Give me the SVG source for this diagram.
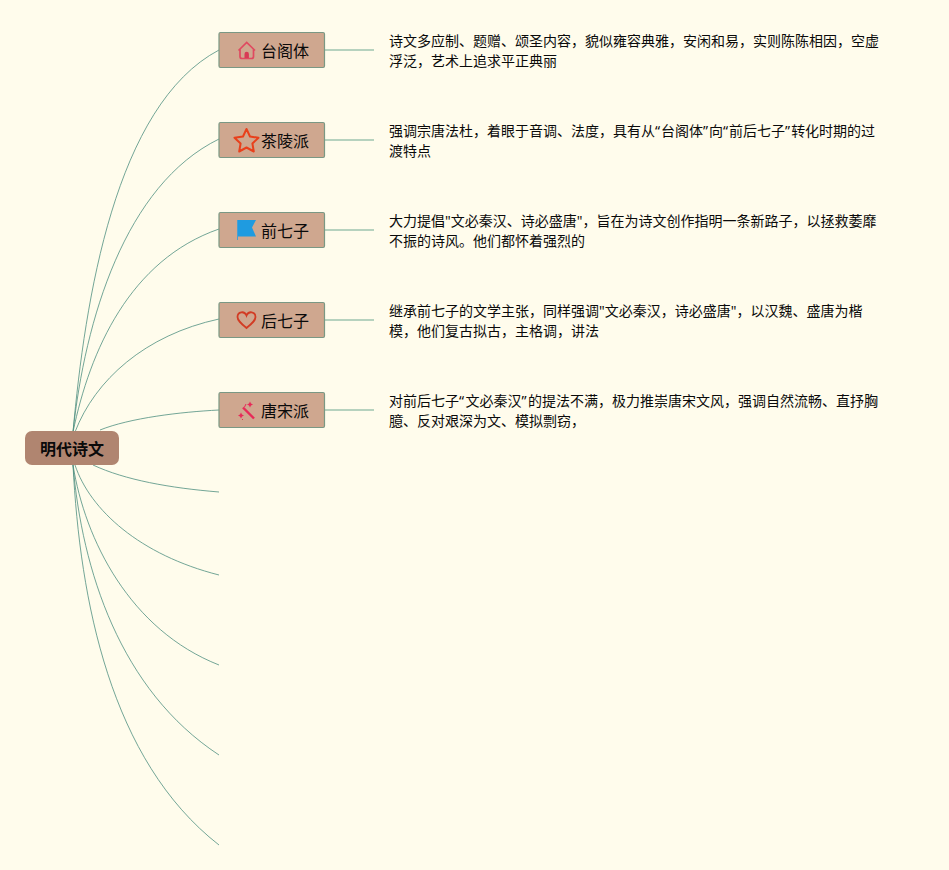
<svg xmlns="http://www.w3.org/2000/svg" width="949" height="870" viewBox="0 0 949 870">
<style>
.bg{fill:#fffcec}
.link{fill:none;stroke:#4f8f80;stroke-width:.8}
.stub{fill:none;stroke:#9fc4ae;stroke-width:1.500}
.box{fill:#cfa78f;stroke:#7a9884;stroke-width:1.200}
.t{font-family:"Noto Sans","Noto Sans CJK SC",sans-serif;fill:#0a0a0a}
.n{font-size:16px}
.d{font-size:14px}
</style>
<rect class="bg" width="949" height="870"/>
<g id="connectors">
<path class="link" d="M73 432C85 300 115 105 219 50"/>
<path class="link" d="M73 432C85 320 125 185 219 139"/>
<path class="link" d="M73 432C90 350 130 260 219 229"/>
<path class="link" d="M75 432C95 380 145 335 219 319"/>
<path class="link" d="M100 430C130 418 180 412 219 410"/>
<path class="link" d="M93 465C125 480 170 488 219 492"/>
<path class="link" d="M75 465C90 510 140 555 219 575"/>
<path class="link" d="M73 465C85 540 130 630 219 665"/>
<path class="link" d="M73 465C82 570 120 690 219 755"/>
<path class="link" d="M73 465C80 600 110 760 219 845"/>
<path class="stub" d="M325 50H374M325 140H374M325 230H374M325 320H374M325 410H374"/>
</g>
<g id="root">
<rect x="25" y="431" width="94" height="34" rx="7" fill="#b08570"/>
<text class="t" x="72" y="454.500" font-size="16" font-weight="700" text-anchor="middle">明代诗文</text>
</g>
<g id="node-1">
<rect class="box" x="219" y="32.500" width="105.500" height="35" rx="1.500"/>
<path d="M238.500 50.500L246.700 42.500L255 50.500M240 49V56.500a2 2 0 0 0 2 2H251.500a2 2 0 0 0 2-2V49" fill="none" stroke="#e04a60" stroke-width="1.700"/>
<path d="M244.500 58V54a2.200 2.200 0 0 1 4.400 0V58Z" fill="#d83a55"/>
<text class="t n" x="285" y="57" text-anchor="middle">台阁体</text>
<text class="t d" x="389" y="46">诗文多应制、题赠、颂圣内容，貌似雍容典雅，安闲和易，实则陈陈相因，空虚</text>
<text class="t d" x="389" y="66">浮泛，艺术上追求平正典丽</text>
</g>
<g id="node-2">
<rect class="box" x="219" y="122.500" width="105.500" height="35" rx="1.500"/>
<path d="M246.500 129L250 136.500L258.500 137.800L252.400 143.500L253.800 151.500L246.500 147.500L239.200 151.500L240.600 143.500L234.500 137.800L243 136.500Z" fill="none" stroke="#e8401c" stroke-width="2" stroke-linejoin="round"/>
<text class="t n" x="285" y="147" text-anchor="middle">茶陵派</text>
<text class="t d" x="389" y="136">强调宗唐法杜，着眼于音调、法度，具有从“<tspan dx="1">台阁体</tspan>”<tspan dx="1">向</tspan>“<tspan dx="1">前后七子</tspan>”<tspan dx="1">转化时期的过</tspan></text>
<text class="t d" x="389" y="156">渡特点</text>
</g>
<g id="node-3">
<rect class="box" x="219" y="212.500" width="105.500" height="35" rx="1.500"/>
<path d="M237.500 220H256L252 227.500L256 236.500H237.500Z" fill="#1f9be0"/>
<path d="M237.500 220V240" stroke="#4a9fd0" stroke-width="1"/>
<text class="t n" x="285" y="237" text-anchor="middle">前七子</text>
<text class="t d" x="389" y="226">大力提倡"文必秦汉、诗必盛唐"，旨在为诗文创作指明一条新路子，以拯救萎靡</text>
<text class="t d" x="389" y="246">不振的诗风。他们都怀着强烈的</text>
</g>
<g id="node-4">
<rect class="box" x="219" y="302.500" width="105.500" height="35" rx="1.500"/>
<path d="M246.500 328C241 323.500 237.500 320.500 237.500 317C237.500 311.500 244.500 310.500 246.500 315.500C248.500 310.500 255.500 311.500 255.500 317C255.500 320.500 252 323.500 246.500 328Z" fill="none" stroke="#d23c24" stroke-width="1.800"/>
<text class="t n" x="285" y="327" text-anchor="middle">后七子</text>
<text class="t d" x="389" y="316">继承前七子的文学主张，同样强调"文必秦汉，诗必盛唐"，以汉魏、盛唐为楷</text>
<text class="t d" x="389" y="336">模，他们复古拟古，主格调，讲法</text>
</g>
<g id="node-5">
<rect class="box" x="219" y="392.500" width="105.500" height="35" rx="1.500"/>
<path d="M243 407.500L254 418.500" stroke="#e82a58" stroke-width="2.400"/>
<path d="M250 401.500l1 2 2 1-2 1-1 2-1-2-2-1 2-1ZM241 412.500l1 2 2 1-2 1-1 2-1-2-2-1 2-1Z" fill="#e82a58"/>
<path d="M246 404l-1.500 3M243 419l-1 1" stroke="#e82a58" stroke-width="1"/>
<text class="t n" x="285" y="417" text-anchor="middle">唐宋派</text>
<text class="t d" x="389" y="406">对前后七子“<tspan dx="1.500">文必秦汉</tspan>”<tspan dx="1.500">的提法不满，极力推崇唐宋文风，强调自然流畅、直抒胸</tspan></text>
<text class="t d" x="389" y="426">臆、反对艰深为文、模拟剽窃，</text>
</g>
</svg>
